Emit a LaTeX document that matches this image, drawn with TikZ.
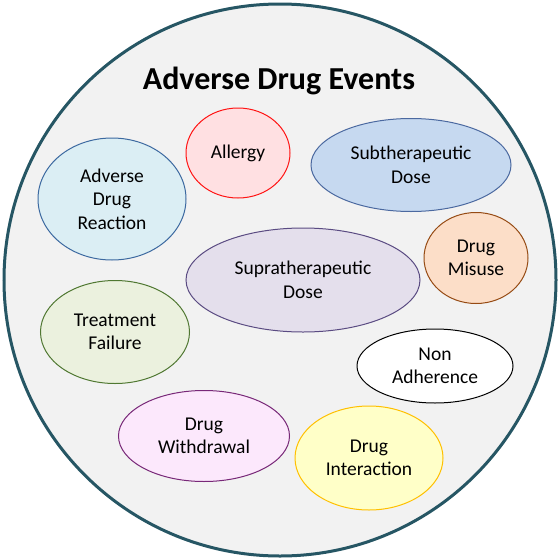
\documentclass[tikz,border=0pt]{standalone}
\usepackage{fontspec}
\setmainfont{Carlito}
\usepackage{xcolor}
\usepackage{tikz}
\usetikzlibrary{shapes.geometric}
\definecolor{ringteal}{RGB}{38,86,100}
\definecolor{ringfill}{RGB}{242,242,242}
\definecolor{adrfill}{RGB}{219,238,244}
\definecolor{adrline}{RGB}{60,105,160}
\definecolor{allfill}{RGB}{255,224,226}
\definecolor{allline}{RGB}{255,20,20}
\definecolor{subfill}{RGB}{198,217,240}
\definecolor{subline}{RGB}{75,105,160}
\definecolor{misfill}{RGB}{252,222,200}
\definecolor{misline}{RGB}{150,75,20}
\definecolor{supfill}{RGB}{228,223,236}
\definecolor{supline}{RGB}{90,75,130}
\definecolor{trtfill}{RGB}{235,241,222}
\definecolor{trtline}{RGB}{80,120,50}
\definecolor{wdrfill}{RGB}{252,232,252}
\definecolor{wdrline}{RGB}{120,40,120}
\definecolor{intfill}{RGB}{255,255,200}
\definecolor{intline}{RGB}{255,192,0}

\begin{document}
\begin{tikzpicture}[
      x=1pt, y=-1pt,
      event/.style = {ellipse, line width=1pt, inner sep=0pt,
                      align=center, font=\fontsize{19.5}{23.5}\selectfont},
      ring/.style  = {circle, draw=ringteal, fill=ringfill, line width=3pt,
                      minimum size=552pt, inner sep=0pt},
    ]
    \useasboundingbox (0,0) rectangle (560,560);
    \node[ring] (ring) at (280,280) {};
    \node[font=\fontsize{32}{38}\selectfont\bfseries] (title) at (279,81) {Adverse Drug Events};

    % events
    \node[event, draw=allline, fill=allfill, minimum width=104pt, minimum height=90pt]
      (allergy) at (238,153) {Allergy};
    \node[event, draw=subline, fill=subfill, minimum width=200pt, minimum height=93pt]
      (subdose) at (411,165) {Subtherapeutic\\Dose};
    \node[event, draw=adrline, fill=adrfill, minimum width=148pt, minimum height=122pt]
      (adr) at (112,199) {Adverse\\Drug\\Reaction};
    \node[event, draw=misline, fill=misfill, minimum width=104pt, minimum height=91pt]
      (misuse) at (476,258) {Drug\\Misuse};
    \node[event, draw=supline, fill=supfill, minimum width=234pt, minimum height=104pt]
      (supdose) at (303,280) {Supratherapeutic\\Dose};
    \node[event, draw=trtline, fill=trtfill, minimum width=149pt, minimum height=103pt]
      (failure) at (115,332) {Treatment\\Failure};
    \node[event, draw=black, fill=white, minimum width=156pt, minimum height=74pt]
      (nonadh) at (435,366) {Non\\Adherence};
    \node[event, draw=wdrline, fill=wdrfill, minimum width=171pt, minimum height=91pt]
      (withdraw) at (204,436) {Drug\\Withdrawal};
    \node[event, draw=intline, fill=intfill, minimum width=148pt, minimum height=104pt]
      (interact) at (369,458) {Drug\\Interaction};
  \end{tikzpicture}
\end{document}
